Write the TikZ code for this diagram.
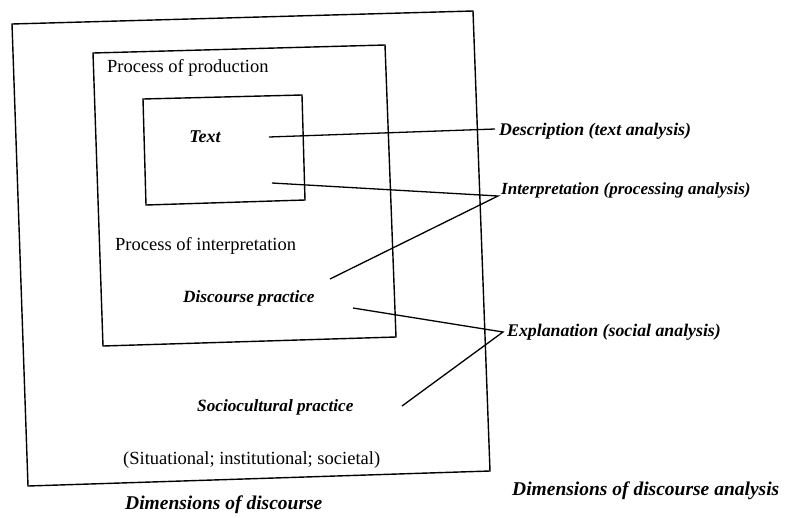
\documentclass[tikz,border=0pt]{standalone}
\usepackage{fontspec}
\setmainfont{Liberation Serif}
\begin{document}
\begin{tikzpicture}[x=1pt,y=-1pt,
  frame/.style={draw=black,line width=1.4pt,line join=miter},
  conn/.style={draw=black,line width=1.3pt},
  up/.style={inner sep=0pt,font=\fontsize{18.5}{20}\selectfont},
  it/.style={inner sep=0pt,font=\fontsize{17.2}{20}\selectfont\itshape\bfseries},
  lab/.style={inner sep=0pt,font=\fontsize{17.8}{19}\selectfont\itshape\bfseries},
  bigcaption/.style={inner sep=0pt,font=\fontsize{19.5}{21}\selectfont\itshape\bfseries}]
\useasboundingbox (0,0) rectangle (787,517);
% boxes (slightly skewed like the scan)
\draw[frame] (12,24) -- (473,11) -- (490,471) -- (28,486) -- cycle;
\draw[frame] (93,53) -- (385,45) -- (396,337) -- (103,346) -- cycle;
\draw[frame] (143,99) -- (302,95) -- (305,200) -- (146,205) -- cycle;
% texts
\node[up,anchor=west] (prod) at (107,68) {Process of production};
\node[it,font=\fontsize{18}{20}\selectfont\itshape\bfseries] (text) at (205,137) {Text};
\node[up,anchor=west] (interp) at (115,246) {Process of interpretation};
\node[it,anchor=west] (dp) at (183,298) {Discourse practice};
\node[it,anchor=west] (sp) at (197,407) {Sociocultural practice};
\node[up,anchor=west] (sit) at (123,460) {(Situational; institutional; societal)};
\node[bigcaption,anchor=west] (dd) at (125,505) {Dimensions of discourse};
\node[lab,anchor=west] (desc) at (499,131) {Description (text analysis)};
\node[lab,anchor=west,font=\fontsize{17}{19}\selectfont\itshape\bfseries] (interpr) at (501,190) {Interpretation (processing analysis)};
\node[lab,anchor=west] (expl) at (507,332) {Explanation (social analysis)};
\node[bigcaption,anchor=west] (dda) at (512,491) {Dimensions of discourse analysis};
% connector ends
\coordinate (d1) at (269,137);
\coordinate (i1) at (272,183);
\coordinate (i2) at (330,279);
\coordinate (e1) at (353,308);
\coordinate (e2) at (402,406);
\coordinate (dj) at (495,129);
\coordinate (ij) at (498,196);
\coordinate (ej) at (503,332);
\draw[conn] (d1) -- (dj);
\draw[conn] (i1) -- (ij) -- (i2);
\draw[conn] (e1) -- (ej) -- (e2);
\end{tikzpicture}
\end{document}
